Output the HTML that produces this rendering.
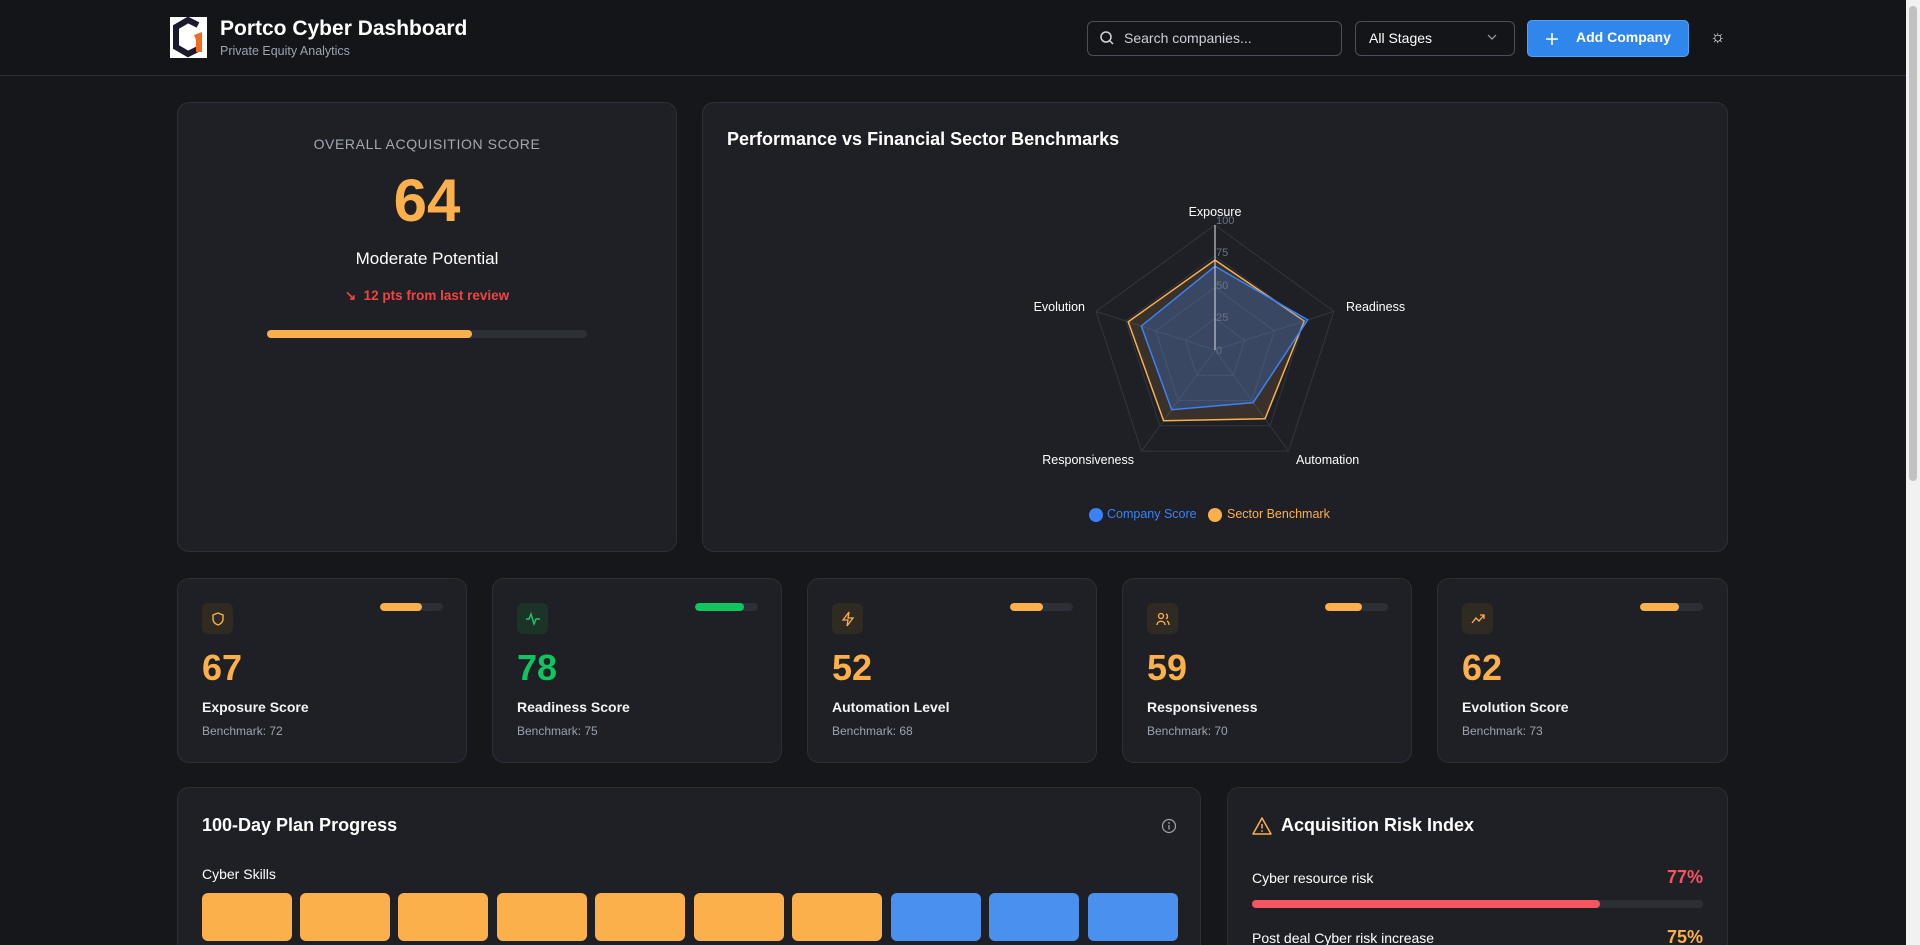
<!DOCTYPE html>
<html style="overflow:hidden;height:945px"><head><meta charset="utf-8"><style>
*{box-sizing:border-box;margin:0;padding:0}
body{width:1920px;height:945px;overflow:hidden;background:#16171b;font-family:"Liberation Sans",sans-serif;color:#f3f4f6;position:relative}
.a{position:absolute}
.card{position:absolute;background:#1e2026;border:1px solid #2c2f36;border-radius:12px}
.hdr{position:absolute;left:0;top:0;width:1906px;height:76px;background:#141519;border-bottom:1px solid #2c2f36}
.b{font-weight:bold}
.sc .ic{position:absolute;left:24px;top:24px;width:31px;height:31px;border-radius:6px;background:#2f2a22;display:flex;align-items:center;justify-content:center}
.sc .mb{position:absolute;left:202px;top:24px;width:63px;height:8px;border-radius:4px;background:#2c2f36;overflow:hidden}
.sc .mb i{display:block;height:100%;background:#fbb04c;border-radius:4px}
.sc .n{position:absolute;left:24px;top:68px;font-size:36px;font-weight:bold;color:#fbb04c}
.sc .l{position:absolute;left:24px;top:120px;font-size:14px;font-weight:bold;color:#f3f4f6}
.sc .bm{position:absolute;left:24px;top:145px;font-size:12px;color:#9ca3af}
.blk{position:absolute;top:893px;height:48px;width:90px;border-radius:6px}
</style></head><body>
<div class="hdr"></div>
<div class="a" style="left:1906px;top:0;width:14px;height:945px;background:#f1f1f1"></div>
<div class="a" style="left:1909px;top:6px;width:8px;height:475px;background:#c1c1c1;border-radius:4px"></div>
<svg class="a" style="left:170px;top:17px" width="37" height="41" viewBox="0 0 37 41"><rect width="37" height="41" fill="#fff"/><path d="M28 8 L18 3 L6 10 L6 30 L18 37 L28 32" fill="none" stroke="#1a1a2e" stroke-width="6"/><path d="M24 18 L32 15 L32 35 L26 35 L26 23 Z" fill="#f26b21"/></svg>
<div class="a b" style="left:220px;top:17px;font-size:21px;color:#fff">Portco Cyber Dashboard</div>
<div class="a" style="left:220px;top:44px;font-size:12.5px;color:#9ca3af">Private Equity Analytics</div>
<div class="a" style="left:1087px;top:21px;width:255px;height:35px;border:1px solid #4b4f58;border-radius:6px"></div>
<svg class="a" style="left:1099px;top:30px" width="16" height="16" viewBox="0 0 16 16"><circle cx="7" cy="7" r="5" fill="none" stroke="#d1d5db" stroke-width="1.5"/><line x1="11" y1="11" x2="14" y2="14" stroke="#d1d5db" stroke-width="1.5"/></svg>
<div class="a" style="left:1124px;top:30px;font-size:14px;color:#cbd0d8">Search companies...</div>
<div class="a" style="left:1355px;top:21px;width:160px;height:35px;border:1px solid #4b4f58;border-radius:6px"></div>
<div class="a" style="left:1369px;top:30px;font-size:14px;color:#fff">All Stages</div>
<svg class="a" style="left:1487px;top:33px" width="10" height="8"><path d="M1 2 L5 6 L9 2" fill="none" stroke="#9ca3af" stroke-width="1.2"/></svg>
<div class="a" style="left:1527px;top:20px;width:162px;height:37px;background:#2f86eb;border-radius:5px;border:1px solid #5aa0f0"></div>
<svg class="a" style="left:1545px;top:32px" width="14" height="14"><path d="M7 1 V13 M1 7 H13" stroke="#fff" stroke-width="1.6"/></svg>
<div class="a b" style="left:1576px;top:29px;font-size:14px;color:#fff">Add Company</div>
<div class="a" style="left:1710px;top:27px;font-size:17px;color:#fff">&#9788;</div>

<!-- score card -->
<div class="card" style="left:177px;top:102px;width:500px;height:450px"></div>
<div class="a" style="left:177px;width:500px;top:136px;text-align:center;font-size:14px;letter-spacing:0.6px;color:#a3a8b2">OVERALL ACQUISITION SCORE</div>
<div class="a b" style="left:177px;width:500px;top:166px;text-align:center;font-size:60px;color:#fbb04c">64</div>
<div class="a" style="left:177px;width:500px;top:249px;text-align:center;font-size:17px;color:#fff">Moderate Potential</div>
<div class="a b" style="left:177px;width:500px;top:288px;text-align:center;font-size:13.5px;color:#f04444">&#8600;&#xFE0E;&nbsp; 12 pts from last review</div>
<div class="a" style="left:267px;top:330px;width:320px;height:8px;border-radius:4px;background:#2c2f36"></div>
<div class="a" style="left:267px;top:330px;width:205px;height:8px;border-radius:4px;background:#fbb04c"></div>

<!-- radar card -->
<div class="card" style="left:702px;top:102px;width:1026px;height:450px"></div>
<div class="a b" style="left:727px;top:129px;font-size:18px;color:#fff">Performance vs Financial Sector Benchmarks</div>
<svg class="a" style="left:0;top:0" width="1920" height="945">
<g fill="none" stroke="#33363e" stroke-width="1">
<polygon points="1215,225 1333.9,311.4 1288.5,451.1 1141.5,451.1 1096.1,311.4"/>
<polygon points="1215,256.25 1304.2,321 1270.1,425.8 1159.9,425.8 1125.8,321"/>
<polygon points="1215,287.5 1274.4,330.7 1251.7,400.6 1178.3,400.6 1155.6,330.7"/>
<polygon points="1215,318.75 1244.7,340.3 1233.4,375.3 1196.6,375.3 1185.3,340.3"/>
<line x1="1215" y1="350" x2="1333.9" y2="311.4"/><line x1="1215" y1="350" x2="1288.5" y2="451.1"/><line x1="1215" y1="350" x2="1141.5" y2="451.1"/><line x1="1215" y1="350" x2="1096.1" y2="311.4"/>
</g>
<polygon points="1215,260 1304.2,321 1265,418.8 1163.6,420.8 1128.2,321.8" fill="rgba(251,176,76,0.12)" stroke="#fbb04c" stroke-width="1.5"/>
<polygon points="1215,266.25 1307.7,319.9 1253.2,402.6 1171.7,409.7 1141.3,326.1" fill="rgba(59,130,246,0.28)" stroke="#3b82f6" stroke-width="1.5"/>
<line x1="1215" y1="350" x2="1215" y2="225" stroke="#c4c8d0" stroke-width="1.2"/>
<g font-family="Liberation Sans" font-size="11" fill="#6b7280">
<text x="1216" y="224">100</text><text x="1216" y="256">75</text><text x="1216" y="289">50</text><text x="1216" y="321">25</text><text x="1216" y="354">0</text>
</g>
<g font-family="Liberation Sans" font-size="12.5" fill="#fff">
<text x="1215" y="216" text-anchor="middle">Exposure</text>
<text x="1346" y="311">Readiness</text>
<text x="1085" y="311" text-anchor="end">Evolution</text>
<text x="1134" y="464" text-anchor="end">Responsiveness</text>
<text x="1296" y="464">Automation</text>
</g>
<circle cx="1096" cy="515" r="7" fill="#3b82f6"/>
<text x="1107" y="518" font-family="Liberation Sans" font-size="12.5" fill="#3b82f6">Company Score</text>
<circle cx="1215" cy="515" r="7" fill="#fbb04c"/>
<text x="1227" y="518" font-family="Liberation Sans" font-size="12.5" fill="#fbb04c">Sector Benchmark</text>
</svg>

<!-- stat cards -->
<div class="card sc" style="left:177px;top:578px;width:290px;height:185px"><div class="ic"><svg width="16" height="16" viewBox="0 0 16 16"><path d="M8 2 L13 4 L13 8 C13 11 10.5 13 8 14 C5.5 13 3 11 3 8 L3 4 Z" fill="none" stroke="#fbb04c" stroke-width="1.4"/></svg></div><div class="mb"><i style="width:67%"></i></div><div class="n">67</div><div class="l">Exposure Score</div><div class="bm">Benchmark: 72</div></div>
<div class="card sc" style="left:492px;top:578px;width:290px;height:185px"><div class="ic" style="background:#1c3328"><svg width="16" height="16" viewBox="0 0 16 16"><path d="M1 8 H4 L6 3 L9 13 L11 8 H15" fill="none" stroke="#1fc46b" stroke-width="1.4"/></svg></div><div class="mb"><i style="width:78%;background:#10c45f"></i></div><div class="n" style="color:#10c45f">78</div><div class="l">Readiness Score</div><div class="bm">Benchmark: 75</div></div>
<div class="card sc" style="left:807px;top:578px;width:290px;height:185px"><div class="ic"><svg width="16" height="16" viewBox="0 0 16 16"><path d="M9 1 L3 9 H8 L7 15 L13 7 H8 Z" fill="none" stroke="#fbb04c" stroke-width="1.3"/></svg></div><div class="mb"><i style="width:52%"></i></div><div class="n">52</div><div class="l">Automation Level</div><div class="bm">Benchmark: 68</div></div>
<div class="card sc" style="left:1122px;top:578px;width:290px;height:185px"><div class="ic"><svg width="16" height="16" viewBox="0 0 16 16"><circle cx="6" cy="5" r="2.5" fill="none" stroke="#fbb04c" stroke-width="1.3"/><path d="M2 14 C2 9 10 9 10 14 M11 3 C13 4 13 7 11 8 M12 10 C14 11 14 13 14 14" fill="none" stroke="#fbb04c" stroke-width="1.3"/></svg></div><div class="mb"><i style="width:59%"></i></div><div class="n">59</div><div class="l">Responsiveness</div><div class="bm">Benchmark: 70</div></div>
<div class="card sc" style="left:1437px;top:578px;width:291px;height:185px"><div class="ic"><svg width="16" height="16" viewBox="0 0 16 16"><path d="M2 12 L6 7 L9 10 L14 4 M10 4 H14 V8" fill="none" stroke="#fbb04c" stroke-width="1.3"/></svg></div><div class="mb"><i style="width:62%"></i></div><div class="n">62</div><div class="l">Evolution Score</div><div class="bm">Benchmark: 73</div></div>

<!-- plan card -->
<div class="card" style="left:177px;top:787px;width:1024px;height:170px"></div>
<div class="a b" style="left:202px;top:815px;font-size:18px;color:#fff">100-Day Plan Progress</div>
<svg class="a" style="left:1161px;top:818px" width="16" height="16"><circle cx="8" cy="8" r="6.5" fill="none" stroke="#9ca3af" stroke-width="1.2"/><line x1="8" y1="7" x2="8" y2="11.5" stroke="#9ca3af" stroke-width="1.3"/><circle cx="8" cy="5" r="0.9" fill="#9ca3af"/></svg>
<div class="a" style="left:202px;top:866px;font-size:14px;color:#fff">Cyber Skills</div>
<div class="blk" style="left:202px;background:#fbb04c"></div>
<div class="blk" style="left:300px;background:#fbb04c"></div>
<div class="blk" style="left:398px;background:#fbb04c"></div>
<div class="blk" style="left:497px;background:#fbb04c"></div>
<div class="blk" style="left:595px;background:#fbb04c"></div>
<div class="blk" style="left:694px;background:#fbb04c"></div>
<div class="blk" style="left:792px;background:#fbb04c"></div>
<div class="blk" style="left:891px;background:#4a90ee"></div>
<div class="blk" style="left:989px;background:#4a90ee"></div>
<div class="blk" style="left:1088px;background:#4a90ee"></div>

<!-- risk card -->
<div class="card" style="left:1227px;top:787px;width:501px;height:170px"></div>
<svg class="a" style="left:1252px;top:816px" width="20" height="20" viewBox="0 0 20 20"><path d="M10 2 L19 18 H1 Z" fill="none" stroke="#fbb04c" stroke-width="1.5" stroke-linejoin="round"/><line x1="10" y1="8" x2="10" y2="12.5" stroke="#fbb04c" stroke-width="1.5"/><circle cx="10" cy="15" r="0.9" fill="#fbb04c"/></svg>
<div class="a b" style="left:1281px;top:815px;font-size:18px;color:#fff">Acquisition Risk Index</div>
<div class="a" style="left:1252px;top:870px;font-size:14px;color:#fff">Cyber resource risk</div>
<div class="a b" style="left:1600px;width:103px;text-align:right;top:867px;font-size:18px;color:#f5555f">77%</div>
<div class="a" style="left:1252px;top:900px;width:451px;height:8px;border-radius:4px;background:#2c2f36"></div>
<div class="a" style="left:1252px;top:900px;width:348px;height:8px;border-radius:4px;background:#f5555f"></div>
<div class="a" style="left:1252px;top:930px;font-size:14px;color:#fff">Post deal Cyber risk increase</div>
<div class="a b" style="left:1600px;width:103px;text-align:right;top:927px;font-size:18px;color:#fbb04c">75%</div>
</body></html>
